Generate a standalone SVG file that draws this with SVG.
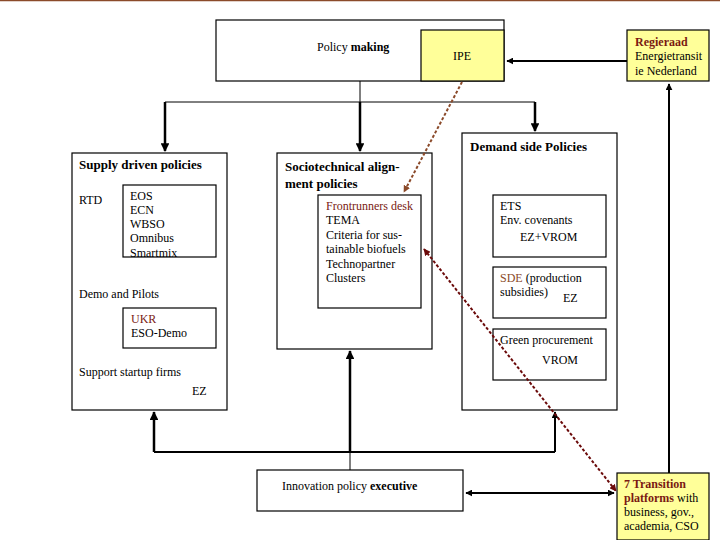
<svg xmlns="http://www.w3.org/2000/svg" width="720" height="540" viewBox="0 0 720 540">
<style>
.b{fill:#fff;stroke:#000;stroke-width:1.2}
.y{fill:#ffff99;stroke:#000;stroke-width:1.2}
text{font-family:"Liberation Serif",serif;font-size:12px;fill:#000}
.h{font-size:13px;font-weight:bold}
.r{fill:#7a1a12}
.c{stroke:#000;fill:none}
</style>
<defs>
<marker id="a" viewBox="0 0 10 10" refX="9" refY="5" markerWidth="3.5" markerHeight="3.5" orient="auto-start-reverse"><path d="M0,0L10,5L0,10z" fill="#000"/></marker>
<marker id="d" viewBox="0 0 10 10" refX="9" refY="5" markerWidth="3.5" markerHeight="3.5" orient="auto-start-reverse"><path d="M0,0L10,5L0,10z" fill="#8b4a2a"/></marker>
<marker id="e" viewBox="0 0 10 10" refX="9" refY="5" markerWidth="3.5" markerHeight="3.5" orient="auto-start-reverse"><path d="M0,0L10,5L0,10z" fill="#6b0a0a"/></marker>
</defs>
<rect width="720" height="540" fill="#fff"/>
<line x1="0" y1="0.5" x2="720" y2="0.5" stroke="#8b4a2a" stroke-width="1.5"/>
<g id="policy"><rect class="b" x="216" y="20" width="288" height="61"/><text x="317" y="51">Policy <tspan font-weight="bold">making</tspan></text></g>
<g id="ipe"><rect class="y" x="421" y="30" width="83" height="51"/><text x="453" y="60">IPE</text></g>
<g id="regieraad"><rect class="y" x="627" y="30" width="82" height="51"/><text x="635" y="46" class="r" font-weight="bold">Regieraad</text><text x="635" y="60">Energietransit</text><text x="635" y="75">ie Nederland</text></g>
<g id="supply"><rect class="b" x="72" y="153" width="155" height="257"/><text x="79" y="169" class="h">Supply driven policies</text><text x="79" y="204">RTD</text>
<rect class="b" x="123" y="185" width="93" height="72"/>
<svg x="123" y="185" width="93" height="72"><text x="7" y="15">EOS</text><text x="7" y="29">ECN</text><text x="7" y="43">WBSO</text><text x="7" y="57">Omnibus</text><text x="7" y="72">Smartmix</text></svg>
<text x="79" y="298">Demo and Pilots</text>
<rect class="b" x="123" y="308" width="93" height="40"/><text x="131" y="323" class="r">UKR</text><text x="131" y="337">ESO-Demo</text>
<text x="79" y="376">Support startup firms</text><text x="192" y="395">EZ</text></g>
<g id="socio"><rect class="b" x="277" y="153" width="155" height="196"/><text x="285" y="171" class="h">Sociotechnical align-</text><text x="285" y="188" class="h">ment policies</text>
<rect class="b" x="318" y="195" width="103" height="113"/>
<text x="326" y="210" class="r">Frontrunners desk</text><text x="326" y="224">TEMA</text><text x="326" y="239">Criteria for sus-</text><text x="326" y="253">tainable biofuels</text><text x="326" y="268">Technopartner</text><text x="326" y="282">Clusters</text></g>
<g id="demand"><rect class="b" x="462" y="133" width="155" height="277"/><text x="470" y="151" class="h">Demand side Policies</text>
<rect class="b" x="493" y="195" width="113" height="62"/><text x="500" y="210">ETS</text><text x="500" y="224">Env. covenants</text><text x="520" y="241">EZ+VROM</text>
<rect class="b" x="493" y="267" width="113" height="51"/><text x="500" y="282"><tspan fill="#8b4a2a">SDE</tspan> (production</text><text x="500" y="296">subsidies)</text><text x="563" y="302">EZ</text>
<rect class="b" x="493" y="329" width="113" height="51"/><text x="500" y="344">Green procurement</text><text x="542" y="364">VROM</text></g>
<g id="innovation"><rect class="b" x="257" y="470" width="206" height="41"/><text x="282" y="490">Innovation policy <tspan font-weight="bold">executive</tspan></text></g>
<g id="transition"><rect class="y" x="617" y="473" width="92" height="67"/><text x="624" y="488" class="r" font-weight="bold">7 Transition</text><text x="624" y="502"><tspan class="r" font-weight="bold">platforms</tspan> with</text><text x="624" y="516">business, gov.,</text><text x="624" y="530">academia, CSO</text></g>
<g id="connectors">
<path class="c" d="M360 81V102M165 102H535"/>
<path class="c" stroke-width="2.5" d="M165 102V151" marker-end="url(#a)"/>
<path class="c" stroke-width="2.5" d="M360 102V151" marker-end="url(#a)"/>
<path class="c" stroke-width="2.5" d="M535 102V131" marker-end="url(#a)"/>
<path class="c" d="M350 470V452"/>
<path class="c" stroke-width="2" d="M154 452H555"/>
<path class="c" stroke-width="2.5" d="M154 452V412" marker-end="url(#a)"/>
<path class="c" stroke-width="2.5" d="M350 452V351" marker-end="url(#a)"/>
<path class="c" stroke-width="2" d="M555 452V412" marker-end="url(#a)"/>
<path class="c" stroke-width="2" d="M627 61H507" marker-end="url(#a)"/>
<path class="c" stroke-width="2" d="M669 473V84" marker-end="url(#a)"/>
<path class="c" stroke-width="2" d="M466 493H614" marker-start="url(#a)" marker-end="url(#a)"/>
<path stroke="#8b4a2a" stroke-width="2" stroke-dasharray="3,2" fill="none" d="M462 82L404 192" marker-end="url(#d)"/>
<path stroke="#6b0a0a" stroke-width="2" stroke-dasharray="3,2" fill="none" d="M424 249L616 491" marker-start="url(#e)" marker-end="url(#e)"/>
</g>
</svg>
